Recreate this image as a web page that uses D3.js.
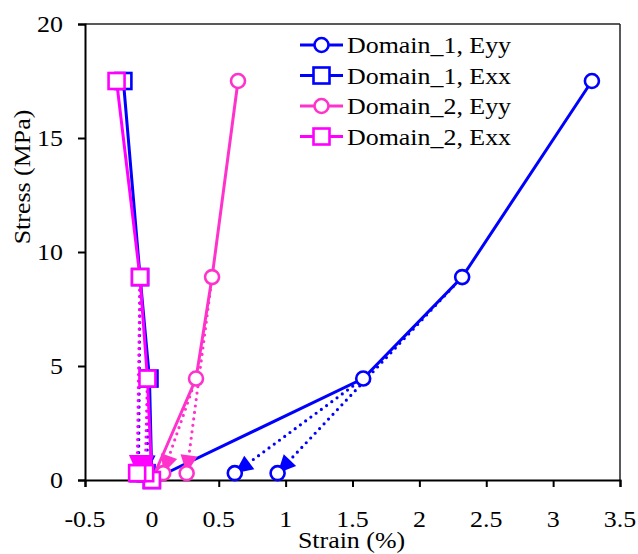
<!DOCTYPE html>
<html><head><meta charset="utf-8">
<script src="https://cdn.jsdelivr.net/npm/d3@7"></script>
<style>body{margin:0;background:#fff}svg{display:block}</style>
</head><body><svg id="c" width="638" height="554"></svg>
<script>
// ---- data ----
const stressLoad = [0, 4.45, 8.9, 17.5];
const d1Eyy = [0, 1.58, 2.32, 3.29];
const d1Exx = [0, -0.018, -0.088, -0.213];
const d2Eyy = [0, 0.33, 0.45, 0.644];
const d2Exx = [0, -0.033, -0.089, -0.264];
// unloading: from the loading points at these stresses to the residual strains
const unloadFrom = [4.45, 8.9];
const residualStress = 0.3;
const d1EyyRes = [0.62, 0.94];
const d1ExxRes = [-0.04, -0.10];
const d2EyyRes = [0.085, 0.26];
const d2ExxRes = [-0.05, -0.11];
const xTicks = [-0.5, 0, 0.5, 1, 1.5, 2, 2.5, 3, 3.5];
const xTickLabels = ["-0.5", "0", "0.5", "1", "1.5", "2", "2.5", "3", "3.5"];
const yTicks = [0, 5, 10, 15, 20];
const yTickLabels = ["0", "5", "10", "15", "20"];
const seriesNames = ["Domain_1, Eyy", "Domain_1, Exx", "Domain_2, Eyy", "Domain_2, Exx"];
const colors = ["#0000ff", "#0000ff", "#ff33cc", "#ff00ff"];
const shapes = ["circle", "square", "circle", "square"];

// ---- layout ----
const svg = d3.select("#c");
const X0 = 85, X1 = 620, Y0 = 480, Y1 = 24;
const x = d3.scaleLinear().domain([-0.5, 3.5]).range([X0, X1]);
const y = d3.scaleLinear().domain([0, 20]).range([Y0, Y1]);
const SX = 1.08;
const FONT = "'Liberation Serif'";
function txt(g, px, py, s, anchor, rot) {
  return g.append("text")
    .attr("transform", `translate(${px},${py})${rot ? " rotate(" + rot + ")" : ""} scale(${SX},1)`)
    .attr("text-anchor", anchor)
    .style("font-family", FONT).style("font-size", "24px").style("fill", "#000")
    .text(s);
}

// frame
svg.append("line").attr("x1", X0).attr("x2", X1).attr("y1", Y1).attr("y2", Y1).attr("stroke", "#222").attr("stroke-width", 1.5);
svg.append("line").attr("x1", X1).attr("x2", X1).attr("y1", Y1).attr("y2", Y0).attr("stroke", "#222").attr("stroke-width", 1.5);

// axes
const gx = svg.append("g").attr("transform", `translate(0,${Y0})`)
  .call(d3.axisBottom(x).tickValues(xTicks).tickSize(7).tickFormat(() => ""));
const gy = svg.append("g").attr("transform", `translate(${X0},0)`)
  .call(d3.axisLeft(y).tickValues(yTicks).tickSize(7).tickFormat(() => ""));
[gx, gy].forEach(g => { g.select(".domain").attr("stroke", "#000").attr("stroke-width", 2);
  g.selectAll(".tick line").attr("stroke", "#000").attr("stroke-width", 2);
  g.selectAll(".tick text").remove(); });
xTicks.forEach((t, i) => txt(svg, x(t), 527, xTickLabels[i], "middle"));
yTicks.forEach((t, i) => txt(svg, 63, y(t) + 8, yTickLabels[i], "end"));
txt(svg, (X0 + X1) / 2 - 1, 548, "Strain (%)", "middle");
txt(svg, 30, 177, "Stress (MPa)", "middle", -90);

// marker drawer
function marker(g, shape, color, px, py) {
  if (shape === "circle") g.append("circle").attr("cx", px).attr("cy", py).attr("r", 7)
    .attr("fill", "#fff").attr("stroke", color).attr("stroke-width", 2.6);
  else g.append("rect").attr("x", px - 8).attr("y", py - 8).attr("width", 16).attr("height", 16)
    .attr("fill", "#fff").attr("stroke", color).attr("stroke-width", 2.6);
}

const loads = [d1Eyy, d1Exx, d2Eyy, d2Exx];
const res = [d1EyyRes, d1ExxRes, d2EyyRes, d2ExxRes];
const plot = svg.append("g");
const line = d3.line().x(d => x(d[0])).y(d => y(d[1]));

loads.forEach((strain, si) => {
  const g = plot.append("g");
  const col = colors[si];
  const pts = strain.map((s, i) => [s, stressLoad[i]]);
  g.append("path").attr("d", line(pts)).attr("fill", "none").attr("stroke", col).attr("stroke-width", 3);
  unloadFrom.forEach((st, k) => {
    const idx = stressLoad.indexOf(st);
    const sx = x(strain[idx]), sy = y(st);
    const ex = x(res[si][k]), ey = y(residualStress);
    const dx = ex - sx, dy = ey - sy, L = Math.hypot(dx, dy), ux = dx / L, uy = dy / L;
    const AL = 18, AW = 8.5;
    const bx = ex - ux * AL, by = ey - uy * AL;
    g.append("line").attr("x1", sx).attr("y1", sy).attr("x2", bx).attr("y2", by)
      .attr("stroke", col).attr("stroke-width", 3.2).attr("stroke-linecap", "round").attr("stroke-dasharray", "0 6.5");
    g.append("path").attr("d", `M${ex},${ey}L${bx - uy * AW},${by + ux * AW}L${bx + uy * AW},${by - ux * AW}Z`).attr("fill", col);
  });
  pts.forEach(p => marker(g, shapes[si], col, x(p[0]), y(p[1])));
  res[si].forEach(r => marker(g, shapes[si], col, x(r), y(residualStress)));
});

// legend
const lg = svg.append("g");
seriesNames.forEach((n, i) => {
  const cy = 45 + i * 30.5;
  lg.append("line").attr("x1", 300).attr("x2", 343).attr("y1", cy).attr("y2", cy).attr("stroke", colors[i]).attr("stroke-width", 3);
  marker(lg, shapes[i], colors[i], 321.5, cy);
  txt(lg, 347, cy + 8, n, "start");
});
</script></body></html>
